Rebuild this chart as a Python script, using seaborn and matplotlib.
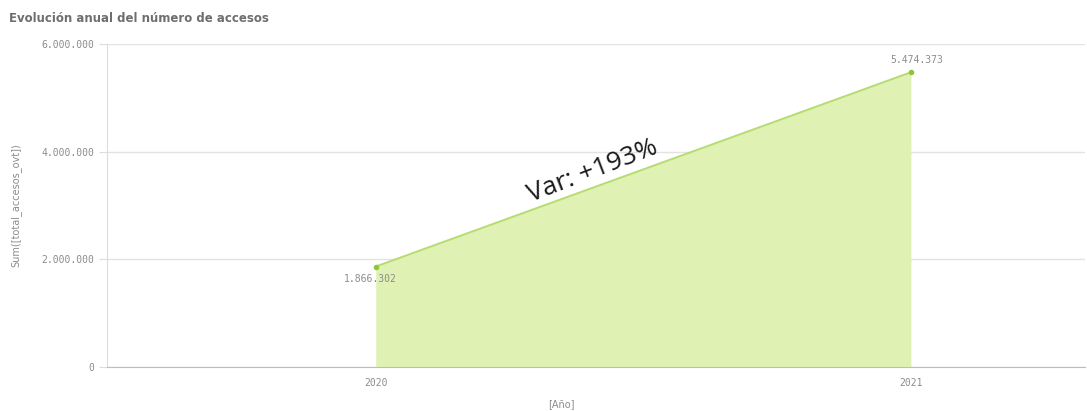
import pandas as pd
import matplotlib.pyplot as plt
import seaborn as sns
from matplotlib.ticker import FuncFormatter

# datos
anios = [2020, 2021]
accesos = [1866302, 5474373]
etiquetas = ['1.866.302', '5.474.373']
variacion = 'Var: +193%'

df = pd.DataFrame({'anio': anios, 'accesos': accesos})

sns.set_style('white')
plt.rcParams['font.family'] = ['DejaVu Sans']

fig = plt.figure(figsize=(10.87, 4.11), dpi=100)
ax = fig.add_axes([0.098, 0.107, 0.9, 0.786])

verde_linea = '#b5dc6e'
verde_relleno = '#dff2b4'
gris = '#8c8c8c'

ax.fill_between(df['anio'], df['accesos'], color=verde_relleno, linewidth=0)
sns.lineplot(data=df, x='anio', y='accesos', ax=ax, color=verde_linea, linewidth=1.4,
             marker='o', markersize=4, markeredgewidth=0, markerfacecolor='#8cc63f')

ax.set_xlim(2019.497, 2021.325)
ax.set_ylim(0, 6000000)
ax.set_yticks([0, 2000000, 4000000, 6000000])
ax.set_xticks(anios)
ax.yaxis.set_major_formatter(FuncFormatter(lambda v, p: f'{int(v):,}'.replace(',', '.')))

ax.grid(axis='y', color='#e3e3e3', linewidth=1)
for s in ['top', 'right']:
    ax.spines[s].set_visible(False)
ax.spines['left'].set_color('#dcdcdc')
ax.spines['bottom'].set_color('#bdbdbd')

ax.tick_params(axis='y', length=6, color='#dcdcdc', labelsize=7, labelcolor=gris, pad=3, left=True)
ax.tick_params(axis='x', length=0, labelsize=7, labelcolor=gris, pad=8)
for lbl in ax.get_xticklabels() + ax.get_yticklabels():
    lbl.set_family('DejaVu Sans Mono')

ax.set_xlabel('[Año]', fontsize=7, color=gris, labelpad=6)
ax.xaxis.set_label_coords(0.465, -0.1)
ax.set_ylabel('Sum([total_accesos_ovt])', fontsize=7, color=gris, labelpad=14)

# etiquetas de valores
ax.annotate(etiquetas[0], (anios[0], accesos[0]), xytext=(-4, -9), textcoords='offset points',
            ha='center', va='center', fontsize=7, color=gris, family='DejaVu Sans Mono')
ax.annotate(etiquetas[1], (anios[1], accesos[1]), xytext=(4, 9), textcoords='offset points',
            ha='center', va='center', fontsize=7, color=gris, family='DejaVu Sans Mono')

ax.text(2020.405, 3640000, variacion, rotation=21, fontsize=19, color='#1a1a1a',
        ha='center', va='center', family='Open Sans')

fig.text(0.008, 0.955, 'Evolución anual del número de accesos', fontsize=8.5,
         fontweight='bold', color='#6e6e6e', ha='left', va='center')

plt.savefig('out.png', dpi=100)
plt.close()
